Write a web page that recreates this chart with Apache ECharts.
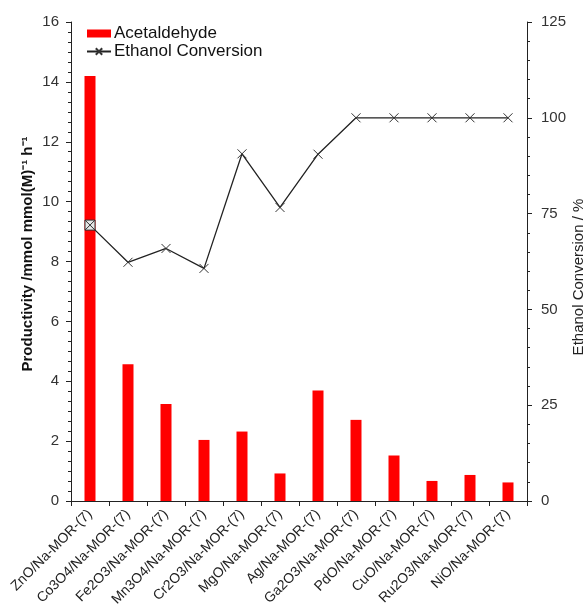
<!DOCTYPE html>
<html>
<head>
<meta charset="utf-8">
<script src="https://cdn.jsdelivr.net/npm/echarts@6/dist/echarts.min.js"></script>
<style>
  html, body { margin: 0; padding: 0; background: #fff; }
  #chart { width: 587px; height: 609px; }
</style>
</head>
<body>
<div id="chart"></div>
<script>
// Catalysts on the category axis
const catalysts = [
  'ZnO/Na-MOR-(7)', 'Co3O4/Na-MOR-(7)', 'Fe2O3/Na-MOR-(7)', 'Mn3O4/Na-MOR-(7)',
  'Cr2O3/Na-MOR-(7)', 'MgO/Na-MOR-(7)', 'Ag/Na-MOR-(7)', 'Ga2O3/Na-MOR-(7)',
  'PdO/Na-MOR-(7)', 'CuO/Na-MOR-(7)', 'Ru2O3/Na-MOR-(7)', 'NiO/Na-MOR-(7)'
];
// Acetaldehyde productivity, mmol mmol(M)^-1 h^-1 (left axis)
const acetaldehyde = [14.2, 4.57, 3.24, 2.04, 2.32, 0.92, 3.69, 2.71, 1.52, 0.67, 0.87, 0.62];
// Ethanol conversion, % (right axis)
const ethanolConversion = [72.0, 62.3, 65.9, 60.7, 90.6, 76.6, 90.5, 100, 100, 100, 100, 100];
// Axis ranges and titles
const leftAxisMax = 16, leftAxisStep = 2;
const rightAxisMax = 125, rightAxisStep = 25;
const leftAxisTitle = 'Productivity /mmol mmol(M)\u207B\u00B9 h\u207B\u00B9';
const rightAxisTitle = 'Ethanol Conversion / %';

const crossSymbol = 'path://M0,0L10,10M10,0L0,10';
const boxCrossSymbol = 'path://M0,0H10V10H0Z M0,0L10,10 M10,0L0,10';

// The first conversion point is drawn as a boxed cross
const lineData = ethanolConversion.map((v, i) => i === 0
  ? { value: v, symbol: boxCrossSymbol, symbolSize: 10,
      itemStyle: { color: '#e6e6e6', borderColor: '#333', borderWidth: 1 } }
  : v);

const font = 'Liberation Sans, Arial, sans-serif';
const chart = echarts.init(document.getElementById('chart'), null, { renderer: 'canvas' });
chart.setOption({
  animation: false,
  backgroundColor: '#fff',
  textStyle: { fontFamily: font },
  grid: { left: 71, right: 60, top: 22, bottom: 108, containLabel: false, outerBoundsMode: 'none' },
  legend: {
    orient: 'vertical',
    left: 81, top: 20,
    itemWidth: 24, itemHeight: 8, itemGap: 1,
    textStyle: { fontSize: 17, lineHeight: 17, color: '#111', fontFamily: font, padding: [0, 0, 0, -2] },
    data: [
      { name: 'Acetaldehyde', icon: 'rect' },
      { name: 'Ethanol Conversion' }
    ]
  },
  // Vertical axis titles
  graphic: [
    {
      type: 'text', x: 28, y: 254, rotation: Math.PI / 2,
      style: { text: leftAxisTitle, fill: '#111', font: 'bold 15px ' + font,
               align: 'center', verticalAlign: 'middle' }
    },
    {
      type: 'text', x: 579, y: 277, rotation: Math.PI / 2,
      style: { text: rightAxisTitle, fill: '#222', font: '15px ' + font,
               align: 'center', verticalAlign: 'middle' }
    }
  ],
  xAxis: {
    type: 'category',
    data: catalysts,
    axisLine: { lineStyle: { color: '#222', width: 1 } },
    axisTick: { show: true, length: 5, lineStyle: { color: '#222' } },
    axisLabel: { rotate: 45, fontSize: 14, color: '#222', margin: 11, interval: 0, fontFamily: font }
  },
  yAxis: [
    {
      type: 'value', min: 0, max: leftAxisMax, interval: leftAxisStep,
      axisLine: { show: true, lineStyle: { color: '#222' } },
      axisTick: { show: true, length: 5, lineStyle: { color: '#222' } },
      minorTick: { show: true, splitNumber: 6, length: 3, lineStyle: { color: '#222' } },
      splitLine: { show: false },
      axisLabel: { fontSize: 15, color: '#333', margin: 12, fontFamily: font }
    },
    {
      type: 'value', min: 0, max: rightAxisMax, interval: rightAxisStep, position: 'right',
      axisLine: { show: true, lineStyle: { color: '#222' } },
      axisTick: { show: true, length: 5, lineStyle: { color: '#222' } },
      minorTick: { show: true, splitNumber: 5, length: 3, lineStyle: { color: '#222' } },
      splitLine: { show: false },
      axisLabel: { fontSize: 15, color: '#333', margin: 14, fontFamily: font }
    }
  ],
  series: [
    {
      name: 'Acetaldehyde', type: 'bar', yAxisIndex: 0,
      data: acetaldehyde, barWidth: 11,
      itemStyle: { color: '#ff0000' }
    },
    {
      name: 'Ethanol Conversion', type: 'line', yAxisIndex: 1,
      data: lineData,
      symbol: crossSymbol, symbolSize: 9,
      lineStyle: { color: '#222', width: 1.3 },
      itemStyle: { color: '#333', borderColor: '#333', borderWidth: 1 },
      z: 5
    }
  ]
});
</script>
</body>
</html>
